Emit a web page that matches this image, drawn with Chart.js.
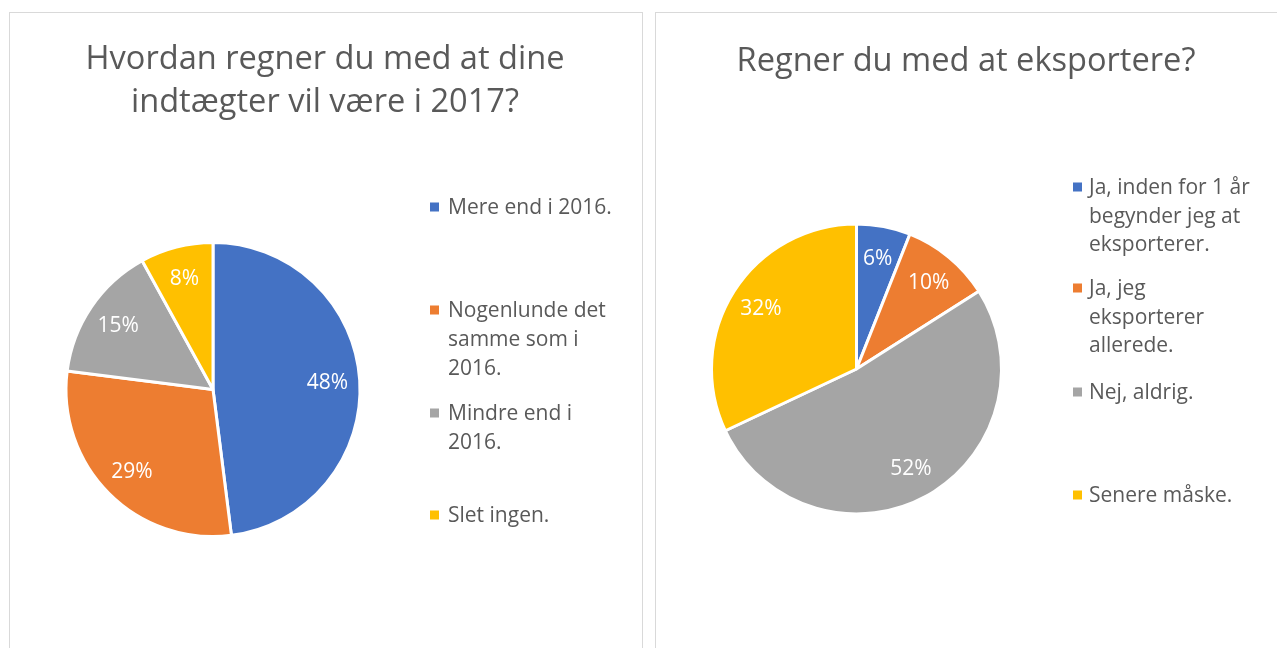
<!DOCTYPE html>
<html><head><meta charset="utf-8">
<script src="https://cdn.jsdelivr.net/npm/chart.js@4.4.1/dist/chart.umd.min.js"></script>
<style>
html,body{margin:0;padding:0;background:#fff;width:1277px;height:648px;overflow:hidden;}
.panel{position:absolute;border:1px solid #d9d9d9;box-sizing:border-box;background:#fff;}
canvas{position:absolute;}
</style></head><body>
<div class="panel" style="left:9px;top:12px;width:634px;height:700px"></div>
<div class="panel" style="left:655px;top:12px;width:700px;height:700px"></div>
<canvas id="c1" width="631" height="635" style="left:10px;top:13px"></canvas>
<canvas id="c2" width="621" height="635" style="left:656px;top:13px"></canvas>
<script>
const incomeTitle = ['Hvordan regner du med at dine', 'indtægter vil være i 2017?'];
const incomeCategories = [['Mere end i 2016.'], ['Nogenlunde det', 'samme som i', '2016.'], ['Mindre end i', '2016.'], ['Slet ingen.']];
const incomeValues = [48, 29, 15, 8];

const exportTitle = 'Regner du med at eksportere?';
const exportCategories = [['Ja, inden for 1 år', 'begynder jeg at', 'eksporterer.'], ['Ja, jeg', 'eksporterer', 'allerede.'], ['Nej, aldrig.'], ['Senere måske.']];
const exportValues = [6, 10, 52, 32];

const sliceColors = ['#4472C4', '#ED7D31', '#A5A5A5', '#FFC000'];

const FONT = "'Open Sans', 'Noto Sans', sans-serif";
const TEXT_COLOR = '#595959';
const LEGEND_SIZE = 21;
const LABEL_SIZE = 21;

function sideLegend(boxWidth, markerX, textX, itemTops, lineGap) {
  return {
    id: 'sideLegend',
    beforeInit(chart) {
      const box = {
        position: 'right', weight: 10, fullSize: false,
        options: {},
        width: boxWidth, height: 0, left: 0, right: 0, top: 0, bottom: 0,
        isHorizontal() { return false; },
        update(maxW, maxH) { this.width = boxWidth; this.height = maxH; },
        draw() {
          const ctx = chart.ctx;
          const labels = chart.data.labels;
          const colors = chart.data.datasets[0].backgroundColor;
          ctx.save();
          ctx.font = LEGEND_SIZE + 'px ' + FONT;
          ctx.textBaseline = 'middle';
          ctx.textAlign = 'left';
          labels.forEach((lines, i) => {
            const y0 = itemTops[i];
            ctx.fillStyle = colors[i];
            ctx.fillRect(markerX, y0 - 4.5, 9, 9);
            ctx.fillStyle = TEXT_COLOR;
            lines.forEach((t, j) => ctx.fillText(t, textX, y0 + 1.5 + j * lineGap));
          });
          ctx.restore();
        }
      };
      Chart.layouts.addBox(chart, box);
    }
  };
}

const pctLabels = {
  id: 'pctLabels',
  afterDatasetsDraw(chart) {
    const ctx = chart.ctx;
    const meta = chart.getDatasetMeta(0);
    const vals = chart.data.datasets[0].data;
    ctx.save();
    ctx.font = LABEL_SIZE + 'px ' + FONT;
    ctx.fillStyle = '#ffffff';
    ctx.textAlign = 'center';
    ctx.textBaseline = 'middle';
    meta.data.forEach((arc, i) => {
      const p = arc.getProps(['x', 'y', 'startAngle', 'endAngle', 'outerRadius'], true);
      const a = (p.startAngle + p.endAngle) / 2;
      const r = p.outerRadius * 0.78;
      ctx.fillText(vals[i] + '%', p.x + Math.cos(a) * r, p.y + Math.sin(a) * r + 1);
    });
    ctx.restore();
  }
};

function makePie(id, title, categories, values, pad, titlePadBottom, legendPlugin) {
  return new Chart(document.getElementById(id), {
    type: 'pie',
    data: {
      labels: categories,
      datasets: [{
        data: values,
        backgroundColor: sliceColors,
        borderColor: '#ffffff',
        borderWidth: 3
      }]
    },
    options: {
      responsive: false,
      animation: false,
      events: [],
      layout: { padding: pad },
      plugins: {
        legend: { display: false },
        tooltip: { enabled: false },
        title: {
          display: true,
          text: title,
          color: TEXT_COLOR,
          font: { family: FONT, size: 32.6, weight: 'normal', lineHeight: '43px' },
          padding: { top: 0, bottom: titlePadBottom }
        }
      }
    },
    plugins: [legendPlugin, pctLabels]
  });
}

makePie('c1', incomeTitle, incomeCategories, incomeValues,
  { top: 25, left: 54, right: 55, bottom: 110 }, 117,
  sideLegend(224, 420, 438, [194, 297, 400, 502], 29));

makePie('c2', exportTitle, exportCategories, exportValues,
  { top: 27.5, left: 54, right: 55, bottom: 132.5 }, 139,
  sideLegend(219, 417, 433, [174, 275, 379, 482], 28.5));
</script>
</body></html>
